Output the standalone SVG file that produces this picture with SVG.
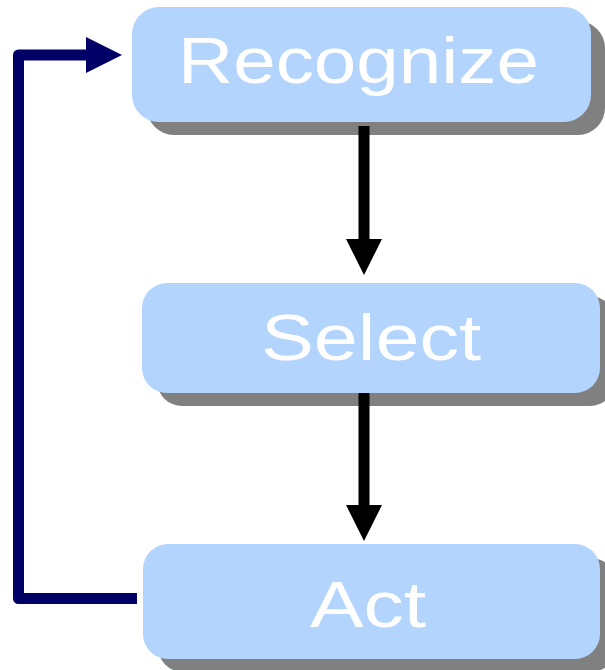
<svg xmlns="http://www.w3.org/2000/svg" width="605" height="670" viewBox="0 0 605 670">
<defs>
<style>
.shadow{fill:#808080}
.box{fill:#b3d4fd}
.lbl{font-family:"Liberation Sans",Arial,sans-serif;font-size:64px;fill:#ffffff;text-anchor:middle}
.down{stroke:#000000;stroke-width:11;fill:none}
.back{stroke:#000066;stroke-width:11;fill:none;stroke-linejoin:round}
</style>
</defs>
<rect width="605" height="670" fill="#ffffff"/>
<g id="recognize">
<rect class="shadow" x="147" y="21" width="458" height="114" rx="27"/>
<rect class="box" x="132" y="7" width="459" height="115" rx="27"/>
<text class="lbl" x="358.5" y="83" textLength="361" lengthAdjust="spacingAndGlyphs">Recognize</text>
</g>
<g id="select">
<rect class="shadow" x="157" y="296" width="458" height="110" rx="25"/>
<rect class="box" x="142" y="283" width="458" height="110" rx="25"/>
<text class="lbl" x="371" y="360" textLength="220" lengthAdjust="spacingAndGlyphs">Select</text>
</g>
<g id="act">
<rect class="shadow" x="158" y="558" width="458" height="114" rx="25"/>
<rect class="box" x="143" y="544" width="457" height="115" rx="25"/>
<text class="lbl" x="368" y="627" textLength="116" lengthAdjust="spacingAndGlyphs">Act</text>
</g>
<g id="connectors">
<line class="down" x1="364" y1="126" x2="364" y2="241"/>
<polygon points="346,239 382,239 364,275" fill="#000000"/>
<line class="down" x1="364" y1="393" x2="364" y2="507"/>
<polygon points="346,505 382,505 364,541" fill="#000000"/>
<polyline class="back" points="137,598.5 18.5,598.5 18.5,55 88,55"/>
<polygon points="86,37 122,55 86,73" fill="#000066"/>
</g>
</svg>
